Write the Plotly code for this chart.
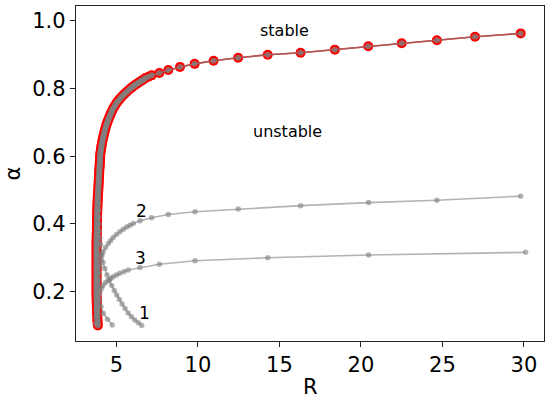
import plotly.graph_objects as go

# main (red) branch: R and alpha, bottom to top
red_R = [3.86, 3.85, 3.84, 3.84, 3.83, 3.83, 3.82, 3.82, 3.81, 3.81,
         3.80, 3.80, 3.80, 3.79, 3.79, 3.79, 3.79, 3.78, 3.78, 3.78,
         3.78, 3.78, 3.78, 3.78, 3.78, 3.78, 3.78, 3.78, 3.78, 3.78,
         3.78, 3.78, 3.78, 3.78, 3.78, 3.78, 3.78, 3.78, 3.78, 3.78,
         3.78, 3.78, 3.78, 3.78, 3.78, 3.78, 3.78, 3.78, 3.78, 3.78,
         3.78, 3.79, 3.79, 3.79, 3.79, 3.80, 3.80, 3.80, 3.80, 3.81,
         3.81, 3.81, 3.81, 3.81, 3.82, 3.82, 3.82, 3.82, 3.83, 3.83,
         3.83, 3.84, 3.84, 3.84, 3.85, 3.85, 3.86, 3.86, 3.87, 3.88,
         3.89, 3.89, 3.90, 3.90, 3.91, 3.91, 3.92, 3.92, 3.93, 3.94,
         3.94, 3.95, 3.95, 3.96, 3.97, 3.97, 3.98, 3.99, 3.99, 4.00,
         4.00, 4.01, 4.02, 4.04, 4.05, 4.07, 4.08, 4.10, 4.12, 4.14,
         4.16, 4.18, 4.21, 4.23, 4.26, 4.28, 4.31, 4.34, 4.37, 4.40,
         4.44, 4.48, 4.52, 4.56, 4.60, 4.64, 4.69, 4.74, 4.79, 4.85,
         4.91, 4.98, 5.05, 5.13, 5.22, 5.31, 5.41, 5.51, 5.62, 5.74,
         5.86, 5.94, 6.02, 6.10, 6.19, 6.28, 6.37, 6.46, 6.56, 6.66,
         6.77, 6.96, 7.16, 7.63, 8.18, 8.90, 9.80, 10.96, 12.47, 14.28,
         16.3, 18.4, 20.45, 22.5, 24.66, 27.0, 29.8]
red_a = [0.100, 0.105, 0.110, 0.115, 0.120, 0.125, 0.130, 0.135, 0.140, 0.145,
         0.150, 0.155, 0.160, 0.165, 0.170, 0.175, 0.180, 0.185, 0.190, 0.195,
         0.200, 0.205, 0.210, 0.215, 0.220, 0.225, 0.230, 0.235, 0.240, 0.245,
         0.250, 0.255, 0.260, 0.265, 0.270, 0.275, 0.280, 0.285, 0.290, 0.295,
         0.300, 0.305, 0.310, 0.315, 0.320, 0.325, 0.330, 0.335, 0.340, 0.345,
         0.350, 0.355, 0.360, 0.365, 0.370, 0.375, 0.380, 0.385, 0.390, 0.395,
         0.400, 0.405, 0.410, 0.415, 0.420, 0.425, 0.430, 0.435, 0.440, 0.445,
         0.450, 0.455, 0.460, 0.465, 0.470, 0.475, 0.480, 0.485, 0.490, 0.495,
         0.500, 0.505, 0.510, 0.515, 0.520, 0.525, 0.530, 0.535, 0.540, 0.545,
         0.550, 0.555, 0.560, 0.565, 0.570, 0.575, 0.580, 0.585, 0.590, 0.595,
         0.600, 0.605, 0.610, 0.615, 0.620, 0.625, 0.630, 0.635, 0.640, 0.645,
         0.650, 0.655, 0.660, 0.665, 0.670, 0.675, 0.680, 0.685, 0.690, 0.695,
         0.700, 0.705, 0.710, 0.715, 0.720, 0.725, 0.730, 0.735, 0.740, 0.745,
         0.750, 0.755, 0.760, 0.765, 0.770, 0.775, 0.780, 0.785, 0.790, 0.795,
         0.800, 0.803, 0.806, 0.809, 0.812, 0.815, 0.818, 0.821, 0.824, 0.827,
         0.831, 0.835, 0.839, 0.846, 0.855, 0.864, 0.873, 0.882, 0.891, 0.900,
         0.906, 0.915, 0.925, 0.934, 0.943, 0.953, 0.963]

# mode 1
m1_R = [3.88, 3.89, 3.90, 3.91, 3.92, 3.93, 3.95, 3.98, 4.02, 4.09,
        4.18, 4.29, 4.42, 4.56, 4.71, 4.87, 5.02, 5.18, 5.35, 5.53,
        5.72, 5.92, 6.13, 6.34, 6.55]
m1_a = [0.500, 0.480, 0.460, 0.440, 0.420, 0.400, 0.380, 0.360, 0.340, 0.310,
        0.287, 0.268, 0.249, 0.233, 0.218, 0.203, 0.190, 0.177, 0.163, 0.150,
        0.137, 0.126, 0.116, 0.108, 0.100]

# mode 2
m2_R = [4.74, 4.45, 4.19, 4.05, 3.97, 3.94, 3.93, 3.94, 3.96, 3.99,
        4.03, 4.10, 4.19, 4.33, 4.50, 4.65, 4.80, 5.00, 5.21, 5.42,
        5.63, 5.83, 6.03, 6.44, 7.16, 8.18, 9.82, 12.47, 16.3, 20.47,
        24.66, 29.8]
m2_a = [0.101, 0.118, 0.136, 0.155, 0.175, 0.195, 0.214, 0.234, 0.254, 0.274,
        0.293, 0.306, 0.318, 0.330, 0.342, 0.351, 0.360, 0.369, 0.377, 0.384,
        0.391, 0.396, 0.401, 0.409, 0.418, 0.428, 0.436, 0.444, 0.454, 0.463,
        0.470, 0.482]

# mode 3
m3_R = [3.74, 3.74, 3.76, 3.79, 3.83, 3.90, 3.99, 4.09, 4.19, 4.34,
        4.50, 4.65, 4.80, 5.00, 5.21, 5.46, 5.72, 6.44, 7.63, 9.82,
        14.28, 20.47, 30.1]
m3_a = [0.106, 0.125, 0.145, 0.160, 0.175, 0.188, 0.200, 0.210, 0.219, 0.227,
        0.234, 0.239, 0.244, 0.249, 0.254, 0.259, 0.264, 0.271, 0.281, 0.291,
        0.300, 0.308, 0.316]

gray = "rgba(128,128,128,0.6)"

fig = go.Figure()
# red envelope, then the same branch again in gray on top
fig.add_trace(go.Scatter(
    x=red_R, y=red_a, mode="lines+markers",
    line=dict(color="#ff0000", width=1.6),
    marker=dict(size=10, color="#ff0000"),
))
fig.add_trace(go.Scatter(
    x=red_R, y=red_a, mode="lines+markers",
    line=dict(color="rgba(128,128,128,0.7)", width=1.6),
    marker=dict(size=6, color="rgba(128,128,128,0.75)"),
))
for xs, ys in [(m1_R, m1_a), (m2_R, m2_a), (m3_R, m3_a)]:
    fig.add_trace(go.Scatter(
        x=xs, y=ys, mode="lines+markers",
        line=dict(color=gray, width=1.6),
        marker=dict(size=5.5, color=gray),
    ))

font = "DejaVu Sans, Liberation Sans, sans-serif"
for txt, x, y, sz in [("stable", 15.3, 0.9725, 16), ("unstable", 15.5, 0.674, 16),
                      ("1", 6.75, 0.136, 17), ("2", 6.56, 0.437, 17), ("3", 6.5, 0.30, 17)]:
    fig.add_annotation(x=x, y=y, text=txt, showarrow=False,
                       font=dict(family=font, size=sz, color="black"))

# axis titles placed in paper space
fig.add_annotation(text="R", xref="paper", yref="paper", x=0.5, y=0, yshift=-60,
                   showarrow=False, font=dict(family=font, size=21, color="black"))
fig.add_annotation(text="α", xref="paper", yref="paper", x=0, y=0.5, xshift=-78,
                   showarrow=False, textangle=-90,
                   font=dict(family=font, size=21, color="black"))

axis = dict(showline=True, linecolor="#222", linewidth=1.3, mirror=True,
            ticks="outside", ticklen=5, tickwidth=1.2, tickcolor="#222",
            showgrid=False, zeroline=False, automargin=False,
            tickfont=dict(family=font, size=21, color="black"))
fig.update_xaxes(range=[2.52, 31.23], tickvals=[5, 10, 15, 20, 25, 30], **axis)
fig.update_yaxes(range=[0.054, 1.044], tickvals=[0.2, 0.4, 0.6, 0.8, 1.0],
                 tickformat=".1f", **axis)
fig.update_layout(width=550, height=399, showlegend=False,
                  plot_bgcolor="white", paper_bgcolor="white",
                  margin=dict(l=76, r=6, t=6, b=58))
fig.write_html("out.html", config={"displayModeBar": False},
               post_script="document.body.style.margin='0';")
